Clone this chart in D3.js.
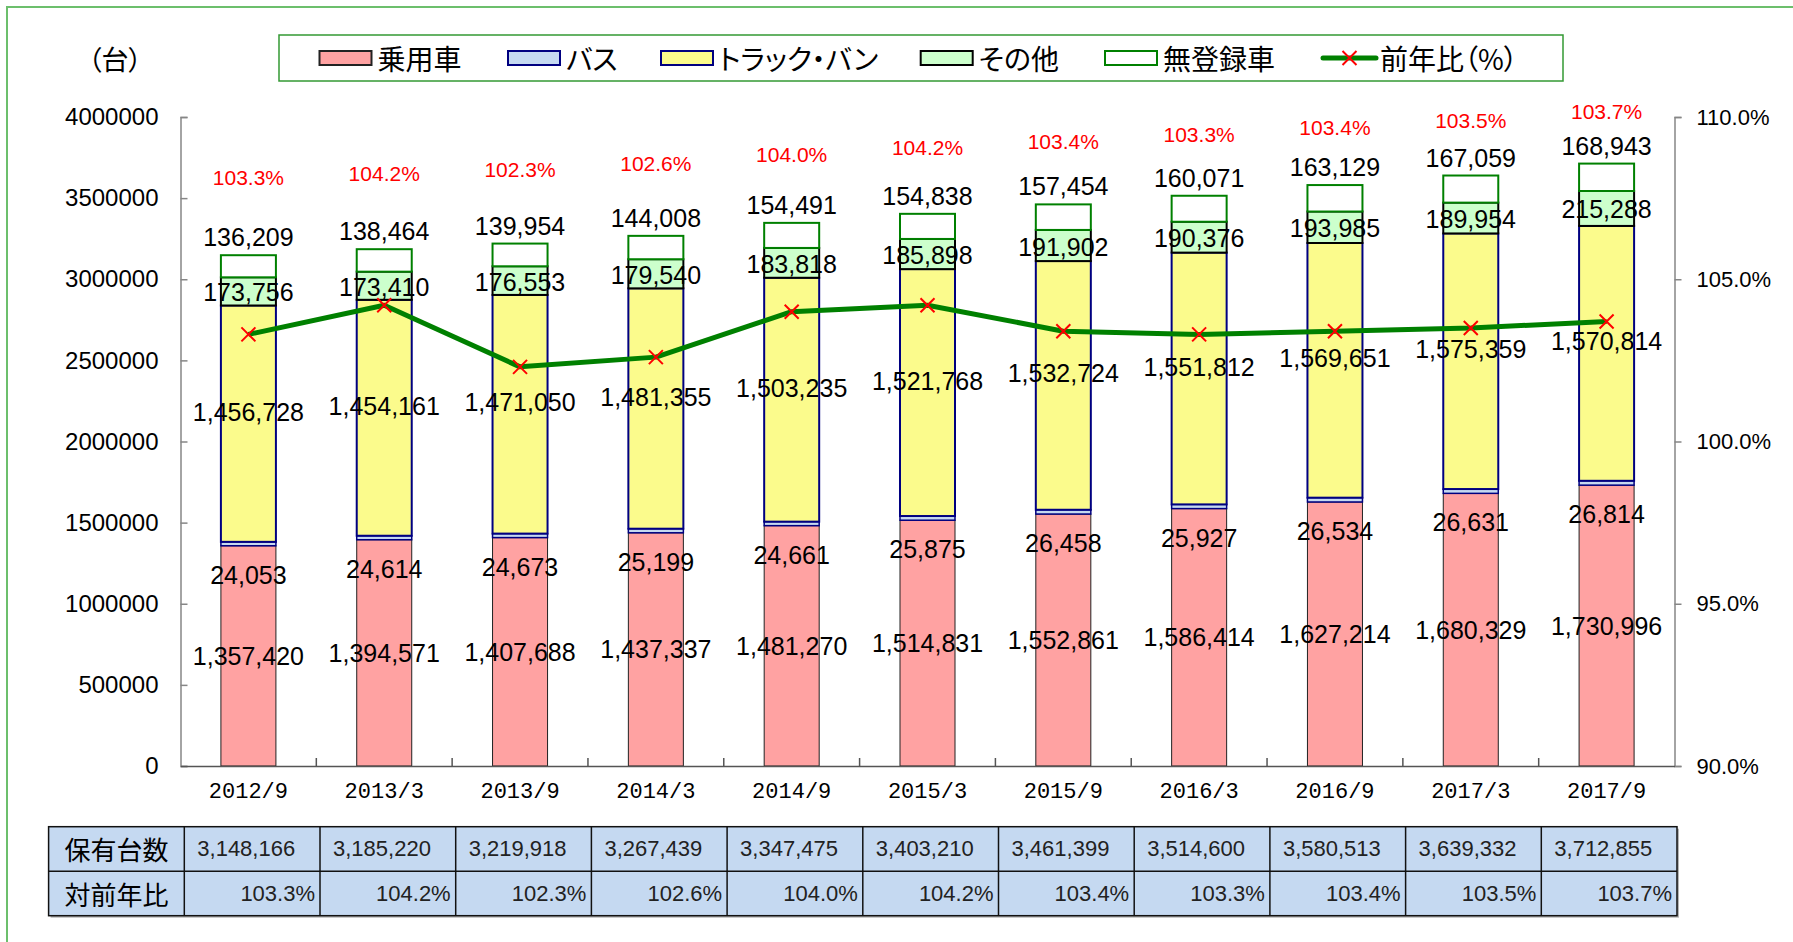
<!DOCTYPE html>
<html>
<head>
    <meta charset="utf-8">
    <title>保有台数</title>
    <script type="text/javascript" src="https://cdn.jsdelivr.net/npm/d3@7/dist/d3.min.js"></script>
    <style>
        body { margin: 0; background: #fff; }
        .jp { font-family: "Noto Sans CJK JP", sans-serif; font-feature-settings: "palt"; }
        .num { font-family: "Liberation Sans", Arial, sans-serif; }
    </style>
</head>

<body>

<script type="text/javascript">

    // data
    var categories = ["2012/9", "2013/3", "2013/9", "2014/3", "2014/9", "2015/3",
        "2015/9", "2016/3", "2016/9", "2017/3", "2017/9"];

    var seriesNames = ["乗用車", "バス", "トラック・バン", "その他", "無登録車"];
    var lineName = "前年比（%）";

    var passenger = [1357420, 1394571, 1407688, 1437337, 1481270, 1514831, 1552861, 1586414, 1627214, 1680329, 1730996];
    var bus = [24053, 24614, 24673, 25199, 24661, 25875, 26458, 25927, 26534, 26631, 26814];
    var truck = [1456728, 1454161, 1471050, 1481355, 1503235, 1521768, 1532724, 1551812, 1569651, 1575359, 1570814];
    var other = [173756, 173410, 176553, 179540, 183818, 185898, 191902, 190376, 193985, 189954, 215288];
    var unregistered = [136209, 138464, 139954, 144008, 154491, 154838, 157454, 160071, 163129, 167059, 168943];

    var totals = [3148166, 3185220, 3219918, 3267439, 3347475, 3403210, 3461399, 3514600, 3580513, 3639332, 3712855];
    var yoy = [103.3, 104.2, 102.3, 102.6, 104.0, 104.2, 103.4, 103.3, 103.4, 103.5, 103.7];

    var leftTicks = [0, 500000, 1000000, 1500000, 2000000, 2500000, 3000000, 3500000, 4000000];
    var rightTicks = [90, 95, 100, 105, 110];
    var tableRows = ["保有台数", "対前年比"];

    // styles for each stacked series (same order as seriesNames)
    var fills = ["#ffa2a2", "#c5d9f1", "#fbfb8c", "#ccffcc", "#ffffff"];
    var strokes = ["#222222", "#000080", "#000080", "#000000", "#008000"];
    var strokeW = [1, 1.5, 2, 2, 2];

    var W = 1793, H = 942;
    var plot = {left: 180.5, right: 1674.5, top: 117, bottom: 766};

    var svg = d3.select("body").append("svg")
            .attr("width", W)
            .attr("height", H);

    // outer frame (runs past the right and bottom edges)
    svg.append("rect")
            .attr("x", 7).attr("y", 7)
            .attr("width", W + 20).attr("height", H + 20)
            .attr("fill", "none")
            .attr("stroke", "#6cbf6c")
            .attr("stroke-width", 2);

    var x = d3.scaleBand()
            .domain(categories)
            .range([plot.left, plot.right])
            .paddingInner(0.595)
            .paddingOuter(0.2975);

    var yL = d3.scaleLinear().domain([0, 4000000]).range([plot.bottom, plot.top]);
    var yR = d3.scaleLinear().domain([90, 110]).range([plot.bottom, plot.top]);

    var fmt = d3.format(",");

    // rows for the stack
    var rows = categories.map(function (c, i)
    {
        return {cat: c, s0: passenger[i], s1: bus[i], s2: truck[i], s3: other[i], s4: unregistered[i]};
    });
    var keys = ["s0", "s1", "s2", "s3", "s4"];
    var stacked = d3.stack().keys(keys)(rows);

    function cx(c)
    {
        return x(c) + x.bandwidth() / 2;
    }

    // axes
    function renderAxes()
    {
        var gl = svg.append("g")
                .attr("transform", "translate(" + plot.left + ",0)")
                .call(d3.axisLeft(yL).tickValues(leftTicks)
                        .tickSizeInner(-7).tickSizeOuter(-7).tickPadding(22)
                        .tickFormat(d3.format("d")));

        var gr = svg.append("g")
                .attr("transform", "translate(" + plot.right + ",0)")
                .call(d3.axisRight(yR).tickValues(rightTicks)
                        .tickSize(7).tickPadding(15)
                        .tickFormat(function (d) { return d.toFixed(1) + "%"; }));

        var gb = svg.append("g")
                .attr("transform", "translate(0," + plot.bottom + ")")
                .call(d3.axisBottom(x).tickSize(0).tickPadding(16));

        [gl, gr].forEach(function (g)
        {
            g.selectAll("path, line").attr("stroke", "#868686").attr("stroke-width", 1.5);
        });
        gb.select("path").attr("stroke", "#555").attr("stroke-width", 1.5);

        gl.selectAll("text").attr("class", "num").style("font-size", "24px").attr("fill", "#000");
        gr.selectAll("text").attr("class", "num").style("font-size", "22px").attr("fill", "#000");
        gb.selectAll("text")
                .style("font-family", "'Liberation Mono', monospace")
                .style("font-size", "22px").attr("fill", "#000");

        // category boundary ticks, pointing up
        var bounds = d3.range(1, categories.length).map(function (i)
        {
            return plot.left + i * x.step();
        });
        svg.append("g").selectAll("line")
                .data(bounds).enter().append("line")
                .attr("x1", function (d) { return d; })
                .attr("x2", function (d) { return d; })
                .attr("y1", plot.bottom)
                .attr("y2", plot.bottom - 8)
                .attr("stroke", "#555")
                .attr("stroke-width", 1.5);
    }

    function renderBars()
    {
        var layers = svg.append("g").selectAll("g.layer")
                .data(stacked).enter().append("g")
                .attr("class", "layer")
                .attr("fill", function (d, i) { return fills[i]; })
                .attr("stroke", function (d, i) { return strokes[i]; })
                .attr("stroke-width", function (d, i) { return strokeW[i]; });

        layers.selectAll("rect")
                .data(function (d) { return d; })
                .enter().append("rect")
                .attr("x", function (d) { return x(d.data.cat); })
                .attr("width", x.bandwidth())
                .attr("y", function (d) { return yL(d[1]); })
                .attr("height", function (d) { return yL(d[0]) - yL(d[1]); });
    }

    function renderLine()
    {
        var line = d3.line()
                .x(function (d, i) { return cx(categories[i]); })
                .y(function (d) { return yR(d); });

        svg.append("path")
                .datum(yoy)
                .attr("d", line)
                .attr("fill", "none")
                .attr("stroke", "#008000")
                .attr("stroke-width", 5)
                .attr("stroke-linejoin", "round");

        svg.append("g").selectAll("path")
                .data(yoy).enter().append("path")
                .attr("transform", function (d, i)
                {
                    return "translate(" + cx(categories[i]) + "," + yR(d) + ")";
                })
                .attr("d", "M-7,-7L7,7M-7,7L7,-7")
                .attr("stroke", "#ff0000")
                .attr("stroke-width", 2);
    }

    function renderLabels()
    {
        var g = svg.append("g")
                .attr("class", "num")
                .style("font-size", "25px")
                .attr("text-anchor", "middle")
                .attr("dominant-baseline", "central")
                .attr("fill", "#000");

        // offsets from each segment's centre, per series
        var shift = [0, 31, -12, 1, 0];

        stacked.forEach(function (layer, k)
        {
            layer.forEach(function (d, i)
            {
                var yy;
                if (k === 4)
                    yy = yL(d[1]) - 18;   // above the bar
                else
                    yy = (yL(d[0]) + yL(d[1])) / 2 + shift[k];

                g.append("text")
                        .attr("x", cx(categories[i]))
                        .attr("y", yy)
                        .text(fmt(d[1] - d[0]));
            });
        });

        // red ratio labels, floated above each bar
        svg.append("g").selectAll("text")
                .data(yoy).enter().append("text")
                .attr("class", "num")
                .style("font-size", "21px")
                .attr("text-anchor", "middle")
                .attr("dominant-baseline", "central")
                .attr("fill", "#ff0000")
                .attr("x", function (d, i) { return cx(categories[i]); })
                .attr("y", function (d, i) { return 0.72 * yL(totals[i]) - 6; })
                .text(function (d) { return d.toFixed(1) + "%"; });

        // unit label
        svg.append("text")
                .attr("class", "jp")
                .attr("x", 115).attr("y", 58)
                .attr("text-anchor", "middle")
                .attr("dominant-baseline", "central")
                .style("font-size", "27px")
                .text("（台）");
    }

    function renderLegend()
    {
        var box = {x: 279, y: 35, w: 1284, h: 46};
        var itemX = [319.5, 508, 661, 920.7, 1105, 1322];
        var lg = svg.append("g");

        lg.append("rect")
                .attr("x", box.x).attr("y", box.y)
                .attr("width", box.w).attr("height", box.h)
                .attr("fill", "#fff")
                .attr("stroke", "#339933")
                .attr("stroke-width", 1.5);

        var items = seriesNames.map(function (n, i) { return {name: n, idx: i}; });
        items.push({name: lineName, idx: -1});

        var cy = box.y + box.h / 2;
        items.forEach(function (it, j)
        {
            var cur = itemX[j];
            if (it.idx >= 0)
            {
                lg.append("rect")
                        .attr("x", cur).attr("y", cy - 7)
                        .attr("width", 52).attr("height", 14)
                        .attr("fill", fills[it.idx])
                        .attr("stroke", strokes[it.idx])
                        .attr("stroke-width", 2);
            }
            else
            {
                lg.append("line")
                        .attr("x1", cur + 1).attr("x2", cur + 54)
                        .attr("y1", cy).attr("y2", cy)
                        .attr("stroke", "#008000")
                        .attr("stroke-width", 5)
                        .attr("stroke-linecap", "round");
                lg.append("path")
                        .attr("transform", "translate(" + (cur + 27.5) + "," + cy + ")")
                        .attr("d", "M-7,-7L7,7M-7,7L7,-7")
                        .attr("stroke", "#ff0000")
                        .attr("stroke-width", 2);
            }

            lg.append("text")
                    .attr("class", "jp")
                    .attr("x", cur + 58)
                    .attr("y", cy)
                    .attr("dominant-baseline", "central")
                    .style("font-size", "28px")
                    .text(it.name);
        });
    }

    function renderTable()
    {
        var t = {x: 48.6, y: 826.7, rowH: 44.5};
        var colW = (1677 - t.x) / (categories.length + 1);
        var tw = colW * (categories.length + 1), th = t.rowH * 2;
        var tg = svg.append("g");

        // shadow + body
        tg.append("rect")
                .attr("x", t.x + 2).attr("y", t.y + 2)
                .attr("width", tw).attr("height", th)
                .attr("fill", "#b5b5b5");
        tg.append("rect")
                .attr("x", t.x).attr("y", t.y)
                .attr("width", tw).attr("height", th)
                .attr("fill", "#c5d9f1")
                .attr("stroke", "#111")
                .attr("stroke-width", 1.5);

        tg.append("line")
                .attr("x1", t.x).attr("x2", t.x + tw)
                .attr("y1", t.y + t.rowH).attr("y2", t.y + t.rowH)
                .attr("stroke", "#111").attr("stroke-width", 1.5);

        tg.selectAll("line.col")
                .data(d3.range(1, categories.length + 1)).enter().append("line")
                .attr("class", "col")
                .attr("x1", function (d) { return t.x + d * colW; })
                .attr("x2", function (d) { return t.x + d * colW; })
                .attr("y1", t.y).attr("y2", t.y + th)
                .attr("stroke", "#111").attr("stroke-width", 1.5);

        tableRows.forEach(function (r, j)
        {
            tg.append("text")
                    .attr("class", "jp")
                    .attr("x", t.x + colW / 2)
                    .attr("y", t.y + t.rowH * (j + 0.5))
                    .attr("text-anchor", "middle")
                    .attr("dominant-baseline", "central")
                    .style("font-size", "26px")
                    .text(r);
        });

        tg.selectAll("text.total")
                .data(totals).enter().append("text")
                .attr("class", "num total")
                .attr("x", function (d, i) { return t.x + (i + 1) * colW + 13; })
                .attr("y", t.y + t.rowH * 0.5)
                .attr("dominant-baseline", "central")
                .style("font-size", "22px")
                .attr("fill", "#222")
                .text(function (d) { return fmt(d); });

        tg.selectAll("text.ratio")
                .data(yoy).enter().append("text")
                .attr("class", "num ratio")
                .attr("x", function (d, i) { return t.x + (i + 2) * colW - 5; })
                .attr("y", t.y + t.rowH * 1.5)
                .attr("text-anchor", "end")
                .attr("dominant-baseline", "central")
                .style("font-size", "22px")
                .attr("fill", "#222")
                .text(function (d) { return d.toFixed(1) + "%"; });
    }

    renderBars();
    renderAxes();
    renderLine();
    renderLabels();
    renderLegend();
    renderTable();

</script>

</body>

</html>
